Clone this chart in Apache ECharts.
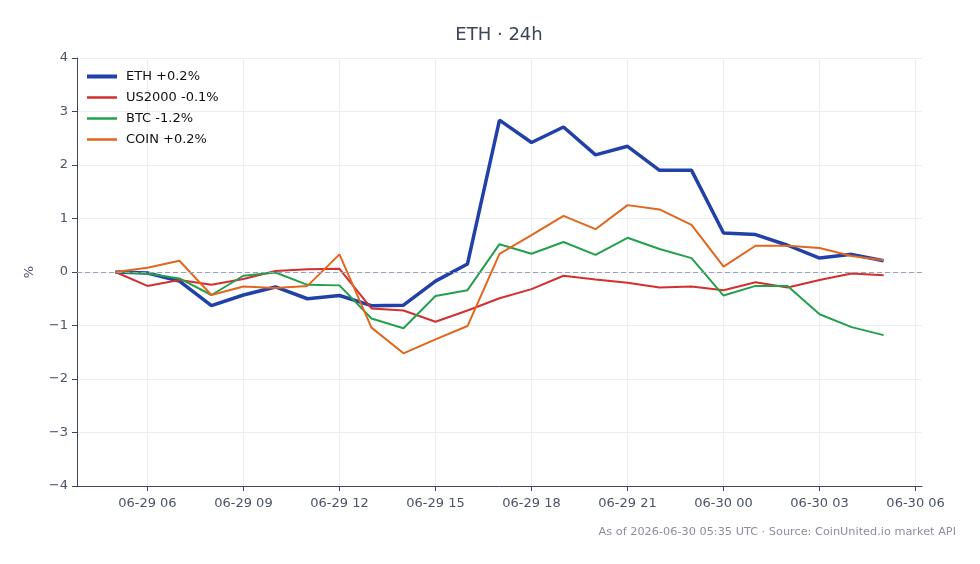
<!DOCTYPE html>
<html>
<head>
<meta charset="utf-8">
<script src="https://cdn.jsdelivr.net/npm/echarts@6/dist/echarts.min.js"></script>
<style>
  html, body { margin: 0; padding: 0; background: #fff; }
  #chart { width: 980px; height: 564px; }
</style>
</head>
<body>
<div id="chart"></div>
<script>
// hourly points, 2026-06-29 05:00 UTC .. 2026-06-30 05:00 UTC
const HOUR = 3600 * 1000
const start = Date.UTC(2026, 5, 29, 5)
const times = []
for (let i = 0; i < 25; i++) times.push(start + i * HOUR)

const eth = [0, -0.02, -0.17, -0.63, -0.43, -0.28, -0.50, -0.44, -0.63, -0.62, -0.17, 0.15,
  2.84, 2.42, 2.71, 2.19, 2.35, 1.90, 1.90, 0.73, 0.70, 0.50, 0.26, 0.33, 0.21]
const us2000 = [0, -0.26, -0.15, -0.24, -0.13, 0.02, 0.05, 0.06, -0.68, -0.72, -0.93, -0.72,
  -0.49, -0.32, -0.07, -0.14, -0.20, -0.29, -0.27, -0.34, -0.19, -0.29, -0.15, -0.03, -0.06]
const btc = [0, -0.03, -0.12, -0.43, -0.07, -0.01, -0.24, -0.25, -0.87, -1.05, -0.45, -0.34,
  0.52, 0.34, 0.56, 0.32, 0.64, 0.43, 0.26, -0.44, -0.26, -0.26, -0.79, -1.03, -1.18]
const coin = [0, 0.08, 0.21, -0.43, -0.27, -0.30, -0.26, 0.33, -1.04, -1.52, -1.26, -1.01,
  0.34, 0.69, 1.05, 0.80, 1.25, 1.17, 0.88, 0.10, 0.49, 0.49, 0.45, 0.30, 0.22]

const seriesNames = ['ETH +0.2%', 'US2000 -0.1%', 'BTC -1.2%', 'COIN +0.2%']
const colors = ['#2141a8', '#d32f2f', '#23a04b', '#e2661d']
const widths = [3.5, 2, 2, 2]

// x ticks every 3h, 06-29 06 .. 06-30 06
const xTicks = []
for (let h = 6; h <= 30; h += 3) xTicks.push(Date.UTC(2026, 5, 29, h))
const xMin = start - 1.2 * HOUR
const xMax = times[times.length - 1] + 1.2 * HOUR

const footer = 'As of 2026-06-30 05:35 UTC · Source: CoinUnited.io market API'

const pad = n => (n < 10 ? '0' : '') + n
const fmtTime = v => {
  const d = new Date(v)
  return pad(d.getUTCMonth() + 1) + '-' + pad(d.getUTCDate()) + ' ' + pad(d.getUTCHours())
}

const font = 'DejaVu Sans'
const chart = echarts.init(document.getElementById('chart'))

const allData = [eth, us2000, btc, coin]
const series = allData.map((arr, k) => ({
  name: seriesNames[k],
  type: 'line',
  data: arr.map((v, i) => [times[i], v]),
  showSymbol: false,
  symbol: 'none',
  color: colors[k],
  lineStyle: { width: widths[k], color: colors[k] },
  animation: false
}))
series[0].markLine = {
  silent: true,
  symbol: 'none',
  label: { show: false },
  lineStyle: { color: '#98a1b8', type: [5, 3], width: 1 },
  data: [{ yAxis: 0 }],
  animation: false
}

// one legend per entry so each swatch can have its own thickness
const legends = seriesNames.map((name, k) => ({
  orient: 'vertical',
  left: 82,
  top: 65 + 21 * k,
  icon: 'rect',
  itemWidth: 30,
  itemHeight: k === 0 ? 4 : 2.5,
  textStyle: { fontFamily: font, fontSize: 13, color: '#111', padding: [0, 0, 0, 4] },
  data: [name]
}))

chart.setOption({
  animation: false,
  textStyle: { fontFamily: font },
  title: {
    text: 'ETH · 24h',
    left: 494,
    textAlign: 'center',
    top: 21,
    textStyle: { fontFamily: font, fontSize: 18, fontWeight: 'normal', color: '#3d4656' }
  },
  legend: legends,
  grid: { left: 77, right: 58, top: 58, bottom: 78, containLabel: false },
  xAxis: {
    type: 'value',
    min: xMin,
    max: xMax,
    axisLine: { show: true, onZero: false, lineStyle: { color: '#3d4656', width: 1 } },
    axisTick: { show: true, length: 5, lineStyle: { color: '#3d4656' }, customValues: xTicks },
    axisLabel: {
      customValues: xTicks,
      formatter: fmtTime,
      margin: 11,
      fontFamily: font,
      fontSize: 13,
      color: '#4a5568'
    },
    splitLine: { show: true, lineStyle: { color: '#eceef2', width: 1 } }
  },
  yAxis: {
    type: 'value',
    min: -4,
    max: 4,
    interval: 1,
    name: '%',
    nameLocation: 'middle',
    nameRotate: 90,
    nameGap: 41,
    nameTextStyle: { fontFamily: font, fontSize: 13, color: '#4a5568' },
    axisLine: { show: true, onZero: false, lineStyle: { color: '#3d4656', width: 1 } },
    axisTick: { show: true, length: 5, lineStyle: { color: '#3d4656' } },
    axisLabel: {
      formatter: v => String(v).replace('-', '\u2212'),
      margin: 9,
      fontFamily: font,
      fontSize: 13,
      color: '#4a5568'
    },
    splitLine: { show: true, lineStyle: { color: '#eceef2', width: 1 } }
  },
  graphic: [{
    type: 'text',
    right: 24,
    top: 527,
    style: { text: footer, fontFamily: font, fontSize: 11.3, fill: '#8a8f99' }
  }],
  series
})
</script>
</body>
</html>
